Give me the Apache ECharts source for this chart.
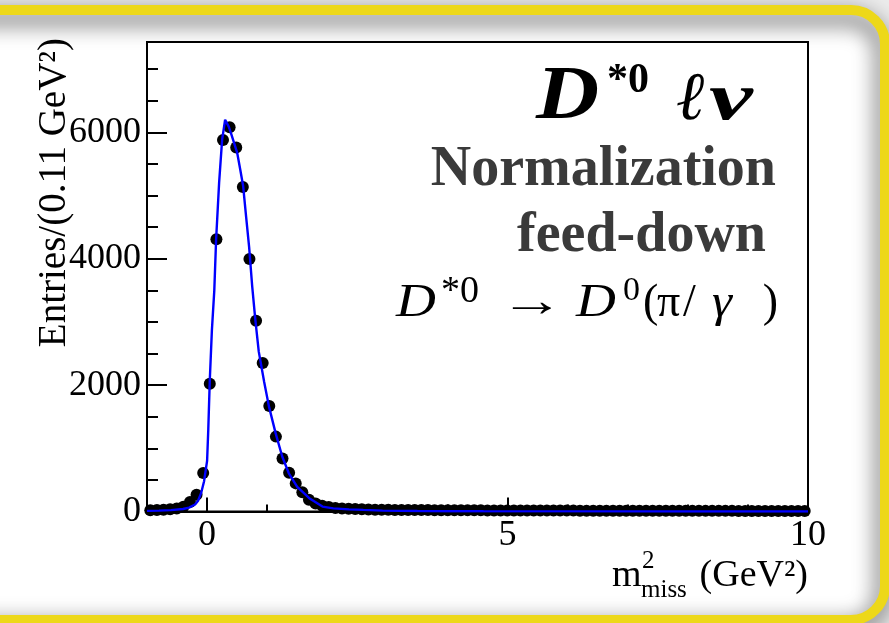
<!DOCTYPE html>
<html>
<head>
<meta charset="utf-8">
<script src="https://cdn.jsdelivr.net/npm/echarts@6/dist/echarts.min.js"></script>
<style>
  html, body { margin: 0; padding: 0; background: #ececec; }
  #chart { width: 889px; height: 623px; }
</style>
</head>
<body>
<div id="chart"></div>
<script>
// Histogram binning of m^2_miss (GeV^2): 100 bins of 0.11 from -1 to 10
const binLow = -1.0;
const binWidth = 0.11;

// Entries per bin
const entries = [
  18, 22, 28, 36, 48, 75, 150, 265, 610, 2020,
  4310, 5880, 6080, 5760, 5135, 3995, 3020, 2350, 1670, 1185,
  840, 615, 445, 305, 185, 125, 90, 70, 55, 48,
  42, 38, 34, 31, 29, 27, 26, 25, 24, 24,
  23, 22, 22, 21, 20, 20, 19, 19, 18, 18,
  18, 17, 17, 17, 16, 16, 16, 15, 15, 15,
  15, 14, 14, 14, 14, 13, 13, 13, 13, 13,
  12, 12, 12, 12, 12, 12, 11, 11, 11, 11,
  11, 11, 10, 10, 10, 10, 10, 10, 10, 9,
  9, 9, 9, 9, 9, 9, 9, 8, 8, 8
];

// Fitted PDF, sampled along m^2_miss
const fitX = [-1.0, -0.8, -0.6, -0.4, -0.3, -0.2, -0.15, -0.1, -0.05, 0.0,
  0.02, 0.045, 0.08, 0.12, 0.15, 0.2, 0.25, 0.3, 0.33, 0.36,
  0.4, 0.45, 0.5, 0.55, 0.6, 0.65, 0.7, 0.75, 0.8, 0.86,
  0.95, 1.03, 1.14, 1.25, 1.36, 1.5, 1.7, 1.92, 2.1, 2.36,
  2.6, 2.92, 3.5, 4.0, 4.6, 6.0, 8.0, 10.0];
const fitY = [10, 14, 22, 40, 62, 110, 170, 290, 480, 800,
  1300, 2080, 2870, 3500, 4300, 5200, 5880, 6200, 6180, 6090,
  5980, 5830, 5680, 5420, 5150, 4660, 4180, 3570, 3060, 2530,
  2050, 1660, 1240, 870, 605, 390, 210, 78, 50, 34,
  25, 14, 8, 5, 3, 2, 1, 1];

// Axis ticks
const xMajorTicks = [0, 5, 10];
const xMinorTicks = [1, 2, 3, 4, 6, 7, 8, 9];
const yMajorTicks = [0, 2000, 4000, 6000];
const yMinorTicks = [500, 1000, 1500, 2500, 3000, 3500, 4500, 5000, 5500, 6500, 7000];
const xRange = [-1, 10];
const yRange = [0, 7430];

const histPoints = entries.map((v, i) => [binLow + binWidth * (i + 0.5), v]);
const fitPoints = fitX.map((x, i) => [x, fitY[i]]);

const serif = "'Liberation Serif', 'DejaVu Serif', serif";
const yellow = '#EDD819';

const chart = echarts.init(document.getElementById('chart'), null, { renderer: 'canvas' });

// Text placed by its alphabetic baseline (Liberation Serif metrics: baseline sits 0.305em below the em-box middle)
function txt(text, x, baseline, size, opts) {
  opts = opts || {};
  return {
    type: 'text', x: x, y: baseline - 0.305 * size, z: 10,
    scaleX: opts.sx || 1,
    style: {
      text: text,
      fontFamily: opts.family || serif,
      fontSize: size,
      fontStyle: opts.italic ? 'italic' : 'normal',
      fontWeight: opts.bold ? 'bold' : 'normal',
      fill: opts.color || '#000',
      textAlign: opts.align || 'left',
      textVerticalAlign: 'middle'
    }
  };
}

const tickLine = { color: '#000', width: 2 };
const labelFont = { margin: 6, fontFamily: serif, fontSize: 36, color: '#000', formatter: v => String(v) };

const option = {
  animation: false,
  backgroundColor: 'transparent',
  grid: {
    left: 147, right: 81, top: 42, bottom: 111.5,
    show: true, borderColor: '#000', borderWidth: 2, backgroundColor: '#fff'
  },
  xAxis: [
    {
      type: 'value', min: xRange[0], max: xRange[1], position: 'bottom',
      axisLine: { show: true, onZero: false, lineStyle: tickLine },
      axisTick: { show: true, inside: true, length: 14, customValues: xMajorTicks, lineStyle: tickLine },
      axisLabel: Object.assign({ show: true, customValues: xMajorTicks }, labelFont),
      splitLine: { show: false }
    },
    {
      type: 'value', min: xRange[0], max: xRange[1], position: 'bottom',
      axisLine: { show: false, onZero: false },
      axisTick: { show: true, inside: true, length: 7, customValues: xMinorTicks, lineStyle: tickLine },
      axisLabel: { show: false },
      splitLine: { show: false }
    }
  ],
  yAxis: [
    {
      type: 'value', min: yRange[0], max: yRange[1], position: 'left',
      axisLine: { show: true, onZero: false, lineStyle: tickLine },
      axisTick: { show: true, inside: true, length: 20, customValues: yMajorTicks, lineStyle: tickLine },
      axisLabel: Object.assign({ show: true, customValues: yMajorTicks }, labelFont),
      splitLine: { show: false }
    },
    {
      type: 'value', min: yRange[0], max: yRange[1], position: 'left',
      axisLine: { show: false, onZero: false },
      axisTick: { show: true, inside: true, length: 11, customValues: yMinorTicks, lineStyle: tickLine },
      axisLabel: { show: false },
      splitLine: { show: false }
    }
  ],
  series: [
    {
      name: 'data', type: 'scatter', xAxisIndex: 0, yAxisIndex: 0,
      data: histPoints, symbol: 'circle', symbolSize: 12,
      itemStyle: { color: '#000', opacity: 1 }, z: 3, clip: false
    },
    {
      name: 'fit', type: 'line', xAxisIndex: 0, yAxisIndex: 0,
      data: fitPoints, showSymbol: false, smooth: false,
      lineStyle: { color: '#0000ff', width: 2.4 }, z: 4
    }
  ],
  graphic: [
    // page frame: grey backdrop, white panel, yellow rounded border with inner shading
    { type: 'rect', z: -20, shape: { x: 0, y: 0, width: 889, height: 623 }, style: { fill: '#ececec' } },
    { type: 'rect', z: -19, shape: { x: -60, y: 10, width: 945, height: 610, r: [0, 34, 34, 0] }, style: { fill: '#fff' } },
    { type: 'rect', z: -18, shape: { x: -60, y: 10, width: 945, height: 610, r: [0, 34, 34, 0] },
      style: { fill: null, stroke: yellow, lineWidth: 10, shadowBlur: 22, shadowColor: 'rgba(0,0,0,0.75)', shadowOffsetY: 8, shadowOffsetX: -2 } },

    // axis titles
    {
      type: 'text', x: 55, y: 38, z: 10, rotation: Math.PI / 2,
      style: { text: 'Entries/(0.11 GeV²)', fontFamily: serif, fontSize: 39, fill: '#000', textAlign: 'right', textVerticalAlign: 'middle' }
    },
    txt('m', 612, 588, 38),
    txt('2', 642, 569, 25),
    txt('miss', 641, 598, 25),
    txt('(GeV²)', 808, 588, 38, { align: 'right' }),

    // decay-channel labels
    txt('D', 536, 122, 76, { italic: true, bold: true, sx: 1.15 }),
    txt('*0', 607, 94, 42, { bold: true }),
    txt('ℓ', 677, 122, 68, { italic: true, bold: true }),
    txt('ν', 709, 122, 68, { italic: true, bold: true, sx: 1.45 }),
    txt('Normalization', 776, 188, 56, { bold: true, color: '#3a3a3a', align: 'right' }),
    txt('feed-down', 766, 254, 56, { bold: true, color: '#3a3a3a', align: 'right' }),
    txt('D', 396, 318, 46, { italic: true, sx: 1.2 }),
    txt('*0', 441, 304, 38),
    txt('→', 500, 318, 46, { sx: 1.4 }),
    txt('D', 576, 318, 46, { italic: true, sx: 1.2 }),
    txt('0', 623, 301, 34),
    txt('(', 643, 318, 46),
    txt('π', 657, 318, 46),
    txt('/', 683, 318, 46),
    txt('γ', 712, 318, 46, { italic: true, sx: 1.1 }),
    txt(')', 778, 318, 46, { align: 'right' })
  ]
};

chart.setOption(option);
</script>
</body>
</html>
